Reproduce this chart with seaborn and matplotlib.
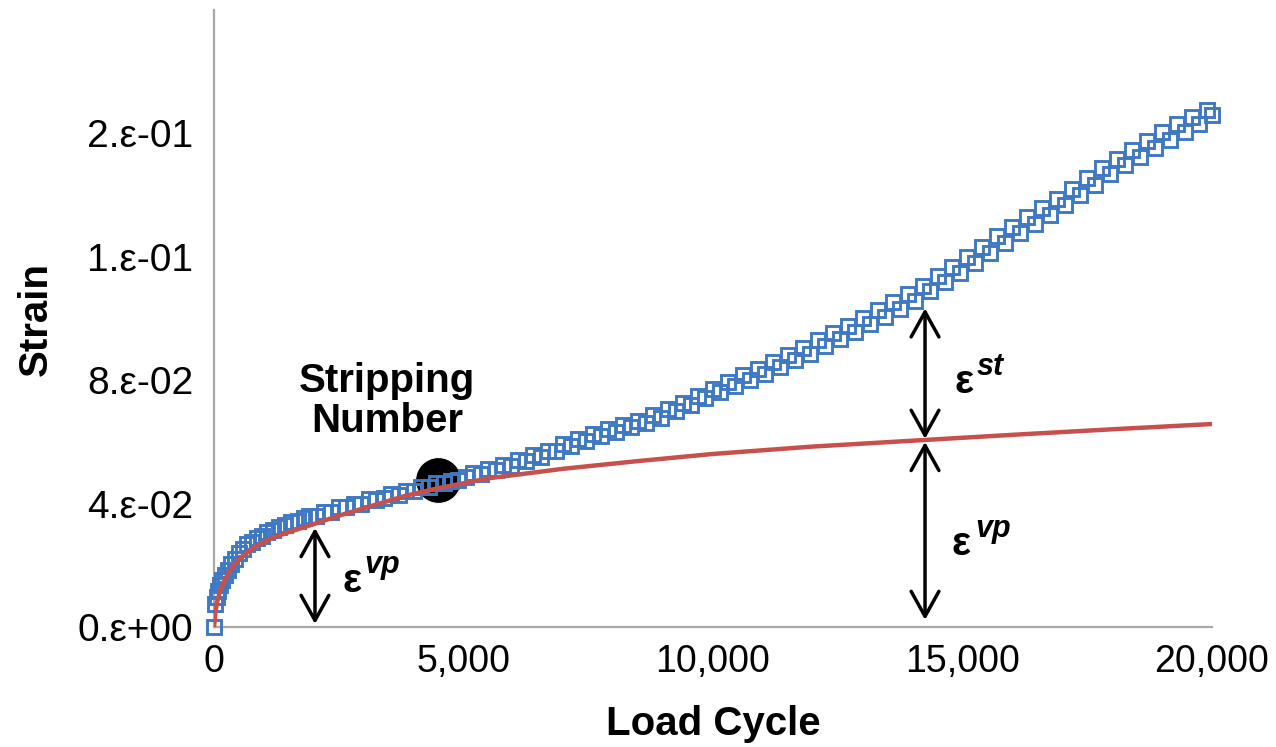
import matplotlib
matplotlib.use("Agg")
import matplotlib.pyplot as plt
from matplotlib.patches import ArrowStyle
import seaborn as sns
import pandas as pd

# Measured permanent strain vs. load cycle
cycles = [
    0, 30, 60, 90, 130, 170, 220, 280, 350, 420, 500, 580, 670, 760, 860, 960,
    1070, 1180, 1300, 1420, 1550, 1680, 1800,
    1900, 2050, 2200, 2350, 2500, 2650, 2800, 2950, 3100, 3250, 3400, 3550,
    3700, 3850, 4000, 4150, 4300, 4450, 4600, 4750, 4900, 5050, 5200, 5350,
    5500, 5650, 5800, 5950, 6100, 6250, 6400, 6550, 6700, 6850, 7000, 7150,
    7300, 7450, 7600, 7750, 7900, 8050, 8200, 8350, 8500, 8650, 8800, 8950,
    9100, 9250, 9400, 9550, 9700, 9850, 10000, 10150, 10300, 10450, 10600,
    10750, 10900, 11050, 11200, 11350, 11500, 11650, 11800, 11950, 12100,
    12250, 12400, 12550, 12700, 12850, 13000, 13150, 13300, 13450, 13600,
    13750, 13900, 14050, 14200, 14350, 14500, 14650, 14800, 14950, 15100,
    15250, 15400, 15550, 15700, 15850, 16000, 16150, 16300, 16450, 16600,
    16750, 16900, 17050, 17200, 17350, 17500, 17650, 17800, 17950, 18100,
    18250, 18400, 18550, 18700, 18850, 19000, 19150, 19300, 19450, 19600,
    19750, 19900, 20000,
]
strain = [
    0.0, 0.0075, 0.0098, 0.0118, 0.0136, 0.0152, 0.0170, 0.0186, 0.0204,
    0.0222, 0.0240, 0.0252, 0.0268, 0.0276, 0.0290, 0.0296, 0.0308, 0.0313,
    0.0324, 0.0330, 0.0340, 0.0343, 0.0353,
    0.0361, 0.0360, 0.0374, 0.0374, 0.0390, 0.0388, 0.0399, 0.0399, 0.0414,
    0.0411, 0.0418, 0.0431, 0.0429, 0.0441, 0.0440, 0.0455, 0.0453, 0.0466,
    0.0466, 0.0473, 0.0478, 0.0485, 0.0499, 0.0496, 0.0511, 0.0508, 0.0526,
    0.0522, 0.0541, 0.0538, 0.0556, 0.0552, 0.0572, 0.0570, 0.0592, 0.0588,
    0.0608, 0.0602, 0.0625, 0.0618, 0.0641, 0.0633, 0.0656, 0.0648, 0.0669,
    0.0662, 0.0688, 0.0679, 0.0706, 0.0699, 0.0727, 0.0720, 0.0750, 0.0741,
    0.0773, 0.0762, 0.0795, 0.0781, 0.0816, 0.0801, 0.0837, 0.0820, 0.0859,
    0.0842, 0.0883, 0.0866, 0.0905, 0.0886, 0.0929, 0.0910, 0.0953, 0.0933,
    0.0977, 0.0957, 0.1001, 0.0982, 0.1028, 0.1006, 0.1053, 0.1032, 0.1079,
    0.1058, 0.1107, 0.1088, 0.1138, 0.1118, 0.1168, 0.1148, 0.1199, 0.1180,
    0.1232, 0.1213, 0.1266, 0.1246, 0.1298, 0.1277, 0.1328, 0.1307, 0.1358,
    0.1337, 0.1389, 0.1368, 0.1421, 0.1400, 0.1454, 0.1434, 0.1487, 0.1467,
    0.1518, 0.1496, 0.1546, 0.1524, 0.1576, 0.1553, 0.1603, 0.1579, 0.1629,
    0.1604, 0.1654, 0.1629, 0.1675, 0.1660,
]

# Viscoplastic (power-law) strain trend
fit_cycles = [0, 30, 60, 120, 220, 350, 480, 650, 820, 1160, 1500, 1820,
              2485, 3166, 3828, 4490, 5500, 7000, 8500, 10000, 12000, 14000,
              16000, 18000, 20000]
fit_strain = [0.0, 0.0050, 0.0080, 0.0115, 0.0155, 0.0190, 0.0217, 0.0240,
              0.0260, 0.0288, 0.0308, 0.0324, 0.0360, 0.0393, 0.0425, 0.0450,
              0.0482, 0.0513, 0.0538, 0.0561, 0.0585, 0.0604, 0.0623, 0.0641,
              0.0658]

# Stripping number point
strip_cycle = [4490]
strip_strain = [0.0476]

y_ticks = [0.0, 0.04, 0.08, 0.12, 0.16]
y_ticklabels = ["0.ε+00", "4.ε-02", "8.ε-02", "1.ε-01", "2.ε-01"]
x_ticks = [0, 5000, 10000, 15000, 20000]
x_ticklabels = ["0", "5,000", "10,000", "15,000", "20,000"]

sns.set_theme(style="white")
plt.rcParams["font.family"] = ["Liberation Sans", "DejaVu Sans"]
plt.rcParams["text.color"] = "black"
plt.rcParams["axes.labelcolor"] = "black"

BLUE = "#3f79c4"
RED = "#c8504c"
GREY = "#a8a8a8"

fig = plt.figure(figsize=(12.76, 7.47), dpi=100)
ax = fig.add_axes([0.1677, 0.1606, 0.7821, 0.8260])

data = pd.DataFrame({"cycle": cycles, "strain": strain})
fit = pd.DataFrame({"cycle": fit_cycles, "strain": fit_strain})
strip = pd.DataFrame({"cycle": strip_cycle, "strain": strip_strain})

sns.lineplot(data=strip, x="cycle", y="strain", ax=ax, marker="o",
             linestyle="", color="black", markersize=33, zorder=1)
sns.lineplot(data=data, x="cycle", y="strain", ax=ax, marker="s",
             linestyle="", estimator=None, sort=False, markersize=9.5,
             markerfacecolor="none", markeredgecolor=BLUE,
             markeredgewidth=2.1, zorder=4, clip_on=False)
sns.lineplot(data=fit, x="cycle", y="strain", ax=ax, color=RED,
             linewidth=3.2, estimator=None, sort=False, zorder=5)

ax.set_xlim(0, 20000)
ax.set_ylim(0, 0.2)
ax.set_xticks(x_ticks)
ax.set_xticklabels(x_ticklabels)
ax.set_yticks(y_ticks)
ax.set_yticklabels(y_ticklabels)
ax.tick_params(axis="both", length=0, labelsize=27, colors="black")
ax.tick_params(axis="y", pad=15, labelsize=28)
ax.tick_params(axis="x", pad=12)

for side in ("top", "right"):
    ax.spines[side].set_visible(False)
for side in ("left", "bottom"):
    ax.spines[side].set_color(GREY)
    ax.spines[side].set_linewidth(1.6)
    ax.spines[side].set_zorder(3)

ax.set_xlabel("Load Cycle", fontsize=29, fontweight="bold", color="black")
ax.set_ylabel("Strain", fontsize=29, fontweight="bold", color="black")
ax.xaxis.set_label_coords(0.5, -0.127)
ax.yaxis.set_label_coords(-0.16, 0.5)

# Double-headed strain arrows
arrow = ArrowStyle("<->", head_length=0.9, head_width=0.5)
arrow_kw = dict(arrowstyle=arrow, color="black", lw=2.5, mutation_scale=20,
                shrinkA=0, shrinkB=0)
ax.annotate("", xy=(2024, 0.0321), xytext=(2024, 0.0010),
            arrowprops=arrow_kw, zorder=6)
ax.annotate("", xy=(14250, 0.0600), xytext=(14250, 0.0023),
            arrowprops=arrow_kw, zorder=6)
ax.annotate("", xy=(14250, 0.1033), xytext=(14250, 0.0610),
            arrowprops=arrow_kw, zorder=6)

# Strain component labels
eps_kw = dict(fontsize=29, fontweight="bold", ha="left", va="baseline",
              color="black")
sup_kw = dict(fontsize=22, fontweight="bold", fontstyle="italic",
              ha="left", va="baseline", color="black")
ax.text(2585, 0.0113, "ε", **eps_kw)
ax.text(3006, 0.0175, "vp", **sup_kw)
ax.text(14850, 0.0758, "ε", **eps_kw)
ax.text(15290, 0.0816, "st", **sup_kw)
ax.text(14790, 0.0233, "ε", **eps_kw)
ax.text(15250, 0.0292, "vp", **sup_kw)

lbl_kw = dict(fontsize=29, fontweight="bold", ha="center", va="baseline",
              color="black")
ax.text(3467, 0.0761, "Stripping", **lbl_kw)
ax.text(3467, 0.0632, "Number", **lbl_kw)

fig.savefig("out.png", dpi=100)
